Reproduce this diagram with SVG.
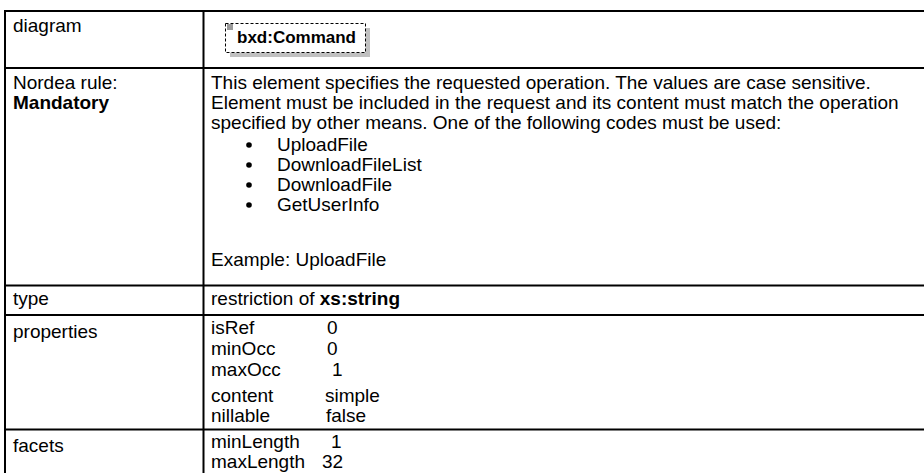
<svg xmlns="http://www.w3.org/2000/svg" width="924" height="473" viewBox="0 0 924 473">
<style>
.t{font-family:"Liberation Sans",Arial,sans-serif;font-size:19px;fill:#000}
.b{font-weight:bold}
.ln{stroke:#000;stroke-width:2;fill:none}
</style>
<rect width="924" height="473" fill="#fff"/>
<g id="grid">
<line class="ln" x1="4" y1="11" x2="924" y2="11"/>
<line class="ln" x1="4" y1="68" x2="924" y2="68"/>
<line class="ln" x1="4" y1="285.5" x2="924" y2="285.5"/>
<line class="ln" x1="4" y1="315" x2="924" y2="315"/>
<line class="ln" x1="4" y1="429.5" x2="924" y2="429.5"/>
<line class="ln" x1="5" y1="10" x2="5" y2="473"/>
<line class="ln" x1="203.5" y1="10" x2="203.5" y2="473"/>
</g>
<g id="node-command">
<rect x="230" y="28" width="140" height="29" fill="#c0c0c0"/>
<rect x="225.5" y="23.5" width="140" height="29" fill="#fff" stroke="#000" stroke-width="1" stroke-dasharray="3,2"/>
<g stroke="#000" stroke-width="0.8">
<line x1="227" y1="25" x2="233" y2="25"/>
<line x1="227" y1="27" x2="233" y2="27"/>
<line x1="227" y1="29" x2="233" y2="29"/>
</g>
<text class="t b" x="237" y="43" style="font-size:17px">bxd:Command</text>
</g>
<g id="connectors"/>
<g id="labels">
<text class="t" x="13" y="32">diagram</text>
<text class="t" x="13" y="89">Nordea rule:</text>
<text class="t b" x="13" y="109">Mandatory</text>
<text class="t" x="13" y="305">type</text>
<text class="t" x="13" y="338">properties</text>
<text class="t" x="13" y="452">facets</text>
</g>
<g id="description">
<text class="t" x="211" y="89">This element specifies the requested operation. The values are case sensitive.</text>
<text class="t" x="211" y="109">Element must be included in the request and its content must match the operation</text>
<text class="t" x="211" y="129">specified by other means. One of the following codes must be used:</text>
<circle cx="249" cy="145" r="2.8"/>
<circle cx="249" cy="165" r="2.8"/>
<circle cx="249" cy="185" r="2.8"/>
<circle cx="249" cy="205" r="2.8"/>
<text class="t" x="277" y="151">UploadFile</text>
<text class="t" x="277" y="171">DownloadFileList</text>
<text class="t" x="277" y="191">DownloadFile</text>
<text class="t" x="277" y="211">GetUserInfo</text>
<text class="t" x="211" y="266">Example: UploadFile</text>
</g>
<g id="type">
<text class="t" x="211" y="305">restriction of <tspan class="b">xs:string</tspan></text>
</g>
<g id="properties">
<text class="t" x="211" y="334">isRef</text><text class="t" x="327" y="334">0</text>
<text class="t" x="211" y="355">minOcc</text><text class="t" x="327" y="355">0</text>
<text class="t" x="211" y="376">maxOcc</text><text class="t" x="332" y="376">1</text>
<text class="t" x="211" y="402">content</text><text class="t" x="325" y="402">simple</text>
<text class="t" x="211" y="422">nillable</text><text class="t" x="326" y="422">false</text>
</g>
<g id="facets">
<text class="t" x="211" y="448">minLength</text><text class="t" x="331" y="448">1</text>
<text class="t" x="211" y="468">maxLength</text><text class="t" x="322" y="468">32</text>
</g>
</svg>
